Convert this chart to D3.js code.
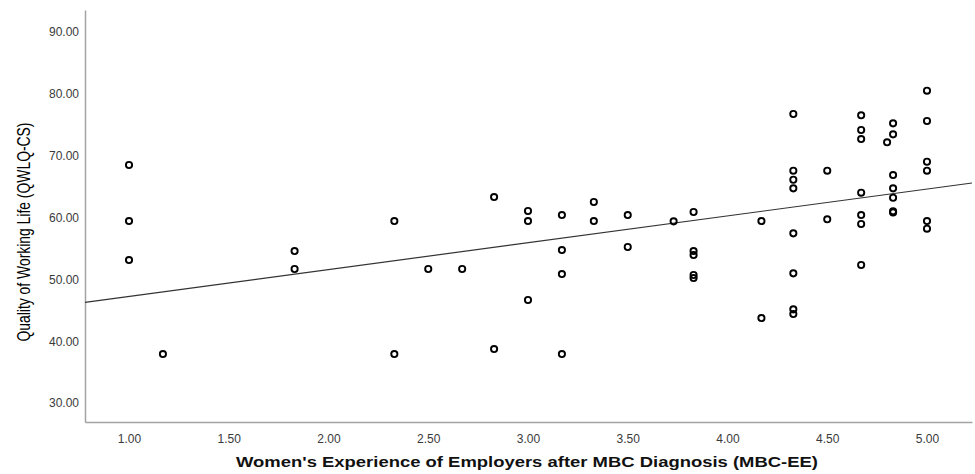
<!DOCTYPE html>
<html>
<head>
<meta charset="utf-8">
<script src="https://cdn.jsdelivr.net/npm/d3@7"></script>
<style>
  body { margin: 0; background: #fff; }
  svg { display: block; }
</style>
</head>
<body>
<div id="chart"></div>
<script>
// MBC-EE score (x) and QWLQ-CS score (y), one entry per respondent
var mbc_ee = [
  1.00, 1.00, 1.00,
  1.17,
  1.83, 1.83,
  2.33, 2.33,
  2.50, 2.67,
  2.83, 2.83,
  3.00, 3.00, 3.00,
  3.17, 3.17, 3.17, 3.17,
  3.33, 3.33,
  3.50, 3.50,
  3.73,
  3.83, 3.83, 3.83, 3.83, 3.83,
  4.17, 4.17,
  4.33, 4.33, 4.33, 4.33, 4.33, 4.33, 4.33, 4.33,
  4.50, 4.50,
  4.67, 4.67, 4.67, 4.67, 4.67, 4.67, 4.67,
  4.80,
  4.83, 4.83, 4.83, 4.83, 4.83, 4.83, 4.83,
  5.00, 5.00, 5.00, 5.00, 5.00, 5.00
];
var qwlq_cs = [
  68.49, 59.43, 53.12,
  37.92,
  54.58, 51.67,
  59.43, 37.92,
  51.67, 51.67,
  63.31, 38.73,
  61.05, 59.43, 46.66,
  60.40, 54.74, 50.86, 37.92,
  62.51, 59.43,
  60.40, 55.23,
  59.38,
  60.89, 54.58, 53.93, 50.70, 50.21,
  59.43, 43.74,
  76.74, 67.57, 66.11, 64.72, 57.44, 50.97, 45.15, 44.39,
  67.57, 59.71,
  76.53, 74.15, 72.69, 64.01, 60.40, 58.95, 52.32,
  72.16,
  75.23, 73.45, 66.87, 64.72, 63.20, 61.00, 60.83,
  80.51, 75.61, 69.02, 67.57, 59.43, 58.19
];

// fit line (total)
var fit_intercept = 42.90;
var fit_slope = 4.34;

var x_ticks = [1.00, 1.50, 2.00, 2.50, 3.00, 3.50, 4.00, 4.50, 5.00];
var y_ticks = [30, 40, 50, 60, 70, 80, 90];

var x_title = "Women's Experience of Employers after MBC Diagnosis (MBC-EE)";
var y_title = 'Quality of Working Life (QWLQ-CS)';

var width = 975;
var height = 474;
var margin = {left: 85, right: 3, top: 10, bottom: 52};

var svg = d3.select('#chart')
  .append('svg')
  .attr('width', width)
  .attr('height', height);

var x_scale = d3.scaleLinear()
  .domain([0.7794, 5.2256])
  .range([margin.left, width - margin.right]);

var y_scale = d3.scaleLinear()
  .domain([26.93, 93.56])
  .range([height - margin.bottom, margin.top]);

// axes - no tick marks, only labels
var x_axis = svg.append('g')
  .attr('class', 'x_axis')
  .attr('transform', 'translate(0,' + (height - margin.bottom) + ')')
  .call(d3.axisBottom(x_scale)
    .tickValues(x_ticks)
    .tickSize(0)
    .tickPadding(12)
    .tickFormat(d3.format('.2f')));

var y_axis = svg.append('g')
  .attr('class', 'y_axis')
  .attr('transform', 'translate(' + margin.left + ',0)')
  .call(d3.axisLeft(y_scale)
    .tickValues(y_ticks)
    .tickSize(0)
    .tickPadding(6)
    .tickFormat(d3.format('.2f')));

svg.selectAll('.x_axis .domain, .y_axis .domain')
  .attr('stroke', '#a3a3a3')
  .attr('stroke-width', 1.5);

svg.selectAll('.x_axis text, .y_axis text')
  .attr('fill', '#3a3a3a')
  .style('font-family', '"Liberation Sans", Arial, sans-serif')
  .style('font-size', '12px');

// regression line across the whole plot width
var fit_x = x_scale.domain();
svg.append('line')
  .attr('class', 'fit_line')
  .attr('x1', x_scale(fit_x[0]))
  .attr('y1', y_scale(fit_intercept + fit_slope * fit_x[0]))
  .attr('x2', x_scale(fit_x[1]))
  .attr('y2', y_scale(fit_intercept + fit_slope * fit_x[1]))
  .attr('stroke', '#333')
  .attr('stroke-width', 1.2);

// points
svg.append('g')
  .attr('class', 'points')
  .selectAll('circle')
  .data(d3.range(mbc_ee.length))
  .enter()
  .append('circle')
  .attr('cx', function(i) { return x_scale(mbc_ee[i]); })
  .attr('cy', function(i) { return y_scale(qwlq_cs[i]); })
  .attr('r', 3.1)
  .attr('fill', 'none')
  .attr('stroke', '#000')
  .attr('stroke-width', 1.9);

// axis titles (the original is stretched, so force the text length)
svg.append('text')
  .attr('x', 527)
  .attr('y', 467)
  .attr('text-anchor', 'middle')
  .attr('textLength', 582)
  .attr('lengthAdjust', 'spacingAndGlyphs')
  .style('font-family', '"Liberation Sans", Arial, sans-serif')
  .style('font-weight', 'bold')
  .style('font-size', '15.5px')
  .attr('fill', '#111')
  .text(x_title);

svg.append('text')
  .attr('transform', 'translate(30,232) rotate(-90)')
  .attr('text-anchor', 'middle')
  .attr('textLength', 219)
  .attr('lengthAdjust', 'spacingAndGlyphs')
  .style('font-family', '"Liberation Sans Narrow", "Liberation Sans", Arial, sans-serif')
  .style('font-size', '18px')
  .attr('fill', '#000')
  .text(y_title);
</script>
</body>
</html>
